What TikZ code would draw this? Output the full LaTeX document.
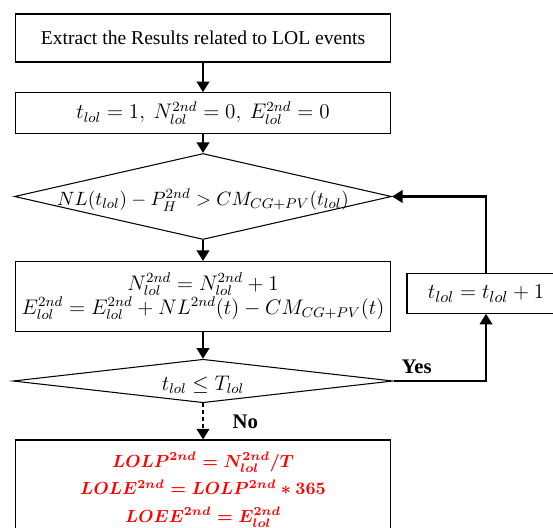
\documentclass[tikz,border=0pt]{standalone}
\usepackage{fontspec}
\setmainfont{Liberation Serif}
\usepackage{amsmath}
\usetikzlibrary{shapes.geometric,arrows.meta}

\begin{document}
\begin{tikzpicture}[semithick]
\tikzset{
    pbox/.style= {rectangle, draw=black, minimum width=7.5cm, align=center, font=\fontsize{11.6}{13.7}\selectfont},
    pdec/.style= {diamond, draw=black, inner sep=0pt},
    pflow/.style= {-{Triangle[width=7pt,length=6pt]}, line width=1.5pt},
    plabel/.style= {font=\bfseries\fontsize{11.8}{14}\selectfont},
}
\useasboundingbox (0,0) rectangle (11.06,-10.54);

\node[pbox, minimum height=0.96cm, font=\fontsize{11.15}{13}\selectfont] (ext) at (4.06,-0.76) {Extract the Results related to LOL events};
\node[pbox, minimum height=0.81cm] (init) at (4.06,-2.26) {$t_{lol}=1,\ N^{2nd}_{lol}=0,\ E^{2nd}_{lol}=0$};
\node[pdec, minimum width=7.54cm, minimum height=1.72cm,
    label={[font=\fontsize{11.4}{13}\selectfont, yshift=-2pt]center:{$NL(t_{lol})-P^{2nd}_{H}>CM_{CG+PV}(t_{lol})$}}] (d1) at (4.06,-3.93) {};
\node[pbox, minimum height=1.4cm] (s1) at (4.06,-5.93) {$N^{2nd}_{lol}=N^{2nd}_{lol}+1$\\ $E^{2nd}_{lol}=E^{2nd}_{lol}+NL^{2nd}(t)-CM_{CG+PV}(t)$};
\node[pbox, minimum width=3.16cm, minimum height=0.79cm, font=\fontsize{12.4}{14}\selectfont] (upd) at (9.72,-5.87) {$t_{lol}=t_{lol}+1$};
\node[pdec, minimum width=7.6cm, minimum height=0.87cm,
    label={[font=\fontsize{11.8}{14}\selectfont, yshift=-2pt]center:{$t_{lol}\leq T_{lol}$}}] (d2) at (4.06,-7.62) {};
\node[pbox, minimum height=2.0cm, text=red, font=\fontsize{10.4}{15.6}\selectfont\boldmath] (res) at (4.06,-9.8)
    {$LOLP^{2nd}=N^{2nd}_{lol}/T$\\ $LOLE^{2nd}=LOLP^{2nd}*365$\\ $LOEE^{2nd}=E^{2nd}_{lol}$};

\draw[pflow] (ext) -- (init);
\draw[pflow] (init) -- (d1);
\draw[pflow] (d1) -- (s1);
\draw[pflow] (s1) -- (d2);
\draw[pflow] (d2.east) -| node[plabel, above, pos=0.125] {Yes} (upd.south);
\draw[pflow] (upd.north) |- (d1.east);
\draw[pflow, dash pattern=on 2pt off 2pt] (d2) -- node[plabel, right=0.45cm] {No} (res);
\end{tikzpicture}
\end{document}
